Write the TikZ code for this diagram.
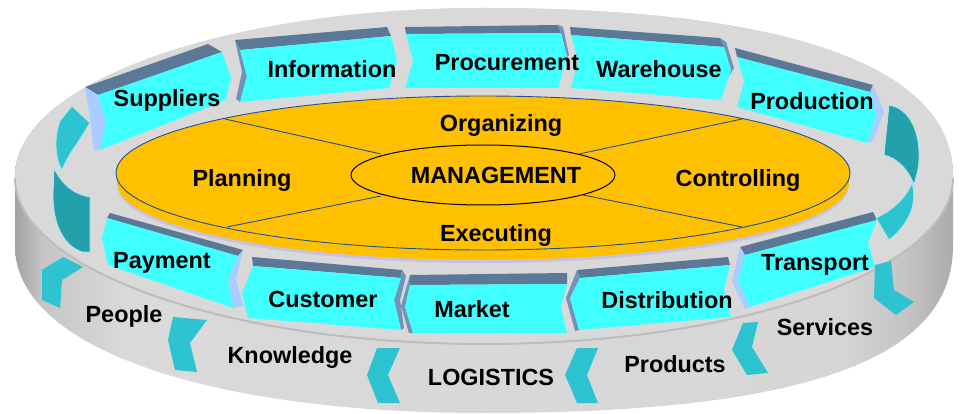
\documentclass[tikz,border=0pt]{standalone}
\usepackage{fontspec}
\setmainfont{Liberation Sans}
\definecolor{cyanF}{HTML}{40FFFF}
\definecolor{slateS}{HTML}{5B7896}
\definecolor{lightB}{HTML}{A9CDFF}
\definecolor{slateE}{HTML}{7392B8}
\definecolor{tealL}{HTML}{2EC3D1}
\definecolor{tealD}{HTML}{22A0AB}
\definecolor{tealEdge}{HTML}{B4E6EC}
\definecolor{orangeC}{HTML}{FFC000}
\definecolor{blueL}{HTML}{1F4F9F}
\definecolor{greyT}{HTML}{D9D9D9}
\definecolor{rimC}{HTML}{BDBDBD}
\definecolor{lavC}{HTML}{C4BCE4}
\definecolor{w0}{HTML}{A2A2A2}
\definecolor{w1}{HTML}{C6C6C6}
\definecolor{w2}{HTML}{DADADA}
\definecolor{w3}{HTML}{D6D6D6}
\definecolor{w4}{HTML}{C4C4C4}
\definecolor{w5}{HTML}{ABABAB}
\pgfdeclarehorizontalshading{wallshade}{100bp}{color(0bp)=(w0); color(25bp)=(w0); color(26.5bp)=(w1); color(31bp)=(w2); color(69bp)=(w3); color(72.5bp)=(w4); color(75bp)=(w5); color(100bp)=(w5)}
\tikzset{
  front/.style={fill=cyanF},
  strip/.style={fill=slateS},
  endlight/.style={fill=lightB},
  endslate/.style={fill=slateE},
  chev/.style={fill=tealL},
  curvL/.style={fill=tealL, draw=tealEdge, line width=0.8pt},
  curvD/.style={fill=tealD, draw=tealEdge, line width=0.8pt},
  divline/.style={draw=blueL, line width=0.9pt},
  lbl/.style={font=\bfseries\fontsize{23.4}{28}\selectfont, inner sep=0pt, anchor=base},
}
\begin{document}
\begin{tikzpicture}[x=1pt,y=-1pt]
\useasboundingbox (0,0) rectangle (961,414);
% disk silhouette with side wall shading
\path[shading=wallshade, shading angle=0]
  (15,176) .. controls (15,83) and (225,8) .. (484,8)
  .. controls (789,8) and (953,67) .. (953,176) -- (953,246)
  .. controls (953,360) and (803,413) .. (484,413)
  .. controls (203,413) and (15,346) .. (15,246) -- cycle;
% top face
\fill[greyT] (15,176) .. controls (15,83) and (225,8) .. (484,8)
  .. controls (789,8) and (953,67) .. (953,176)
  .. controls (953,269) and (743,344) .. (484,344)
  .. controls (225,344) and (15,269) .. (15,176) -- cycle;
% rim
\draw[rimC, line width=2pt] (15,178) .. controls (15,269) and (225,344) .. (484,344)
  .. controls (743,344) and (953,269) .. (953,178);
% orange management disk
\fill[lavC, opacity=0.8] (483,187) ellipse [x radius=365, y radius=76];
\fill[orangeC] (483,183) ellipse [x radius=366, y radius=77];
\filldraw[fill=orangeC, draw=blueL, line width=0.9pt] (483,173) ellipse [x radius=367, y radius=77];
\coordinate (ula) at (225,119); \coordinate (ulb) at (381,154);
\coordinate (lla) at (227,227); \coordinate (llb) at (381,196);
\coordinate (ura) at (742,119); \coordinate (urb) at (579,154);
\coordinate (lra) at (742,227); \coordinate (lrb) at (583,195);
\draw[divline] (ula) -- (ulb);
\draw[divline] (lla) -- (llb);
\draw[divline] (ura) -- (urb);
\draw[divline] (lra) -- (lrb);
\draw[black, line width=1pt] (483,175) ellipse [x radius=132, y radius=30];
% Suppliers
\fill[strip] (85,87) -- (208,44) -- (222,52) -- (98,95) -- cycle;
\fill[endlight] (85,87) -- (98,95) -- (106,121) -- (100,150) -- (94,150) -- (90,118) -- cycle;
\fill[front] (98,95) -- (222,52) -- (231,77) -- (226,100) -- (100,150) -- (106,121) -- cycle;
% Information
\fill[strip] (235,40) -- (387,27) -- (391,36) -- (240,50) -- cycle;
\fill[endslate] (235,40) -- (240,50) -- (247,76) -- (240,102) -- (236,99) -- (242,72) -- cycle;
\fill[front] (240,50) -- (391,36) -- (397,60) -- (389,88) -- (240,102) -- (247,76) -- cycle;
% Procurement
\fill[strip] (405,27) -- (558,25) -- (561,33) -- (406,34) -- cycle;
\fill[endslate] (558,25) -- (563,27) -- (569,55) -- (567,57) -- (561,33) -- cycle;
\fill[front] (406,34) -- (561,33) -- (567,57) -- (558,88) -- (405,88) -- (413,61) -- cycle;
% Warehouse
\fill[strip] (570,27) -- (720,38) -- (724,47) -- (571,35) -- cycle;
\fill[endslate] (720,38) -- (726,42) -- (734,68) -- (727,79) -- (731,70) -- (724,47) -- cycle;
\fill[front] (571,35) -- (724,47) -- (731,70) -- (721,100) -- (571,88) -- (578,60) -- cycle;
% Production
\fill[strip] (735,48) -- (873,85) -- (870,92) -- (737,57) -- cycle;
\fill[endlight] (870,92) -- (873,85) -- (884,112) -- (873,141) -- (867,143) -- (876,116) -- cycle;
\fill[front] (737,57) -- (870,92) -- (876,116) -- (867,143) -- (737,107) -- (744,82) -- cycle;
% Transport
\fill[strip] (740,247) -- (873,212) -- (877,220) -- (745,255) -- cycle;
\fill[endlight] (740,247) -- (745,255) -- (738,280) -- (750,307) -- (745,309) -- (732,281) -- cycle;
\fill[front] (745,255) -- (877,220) -- (868,243) -- (875,267) -- (750,307) -- (738,280) -- cycle;
% Distribution
\fill[strip] (577,270) -- (728,257) -- (730,265) -- (580,278) -- cycle;
\fill[endslate] (577,270) -- (580,278) -- (570,298) -- (579,330) -- (575,331) -- (566,298) -- cycle;
\fill[front] (580,278) -- (730,265) -- (724,290) -- (731,317) -- (579,330) -- (570,298) -- cycle;
% Market
\fill[strip] (410,275) -- (567,273) -- (567,284) -- (410,285) -- cycle;
\fill[endslate] (410,275) -- (410,285) -- (405,307) -- (413,333) -- (409,333) -- (401,306) -- cycle;
\fill[front] (410,285) -- (567,284) -- (561,307) -- (567,333) -- (413,333) -- (405,307) -- cycle;
% Customer
\fill[strip] (252,257) -- (402,270) -- (401,278) -- (253,266) -- cycle;
\fill[endslate] (402,270) -- (406,276) -- (400,300) -- (404,328) -- (401,330) -- (394,300) -- (401,278) -- cycle;
\fill[front] (253,266) -- (401,278) -- (394,300) -- (401,330) -- (248,318) -- (242,293) -- cycle;
% Payment
\fill[strip] (110,213) -- (243,250) -- (238,256) -- (107,218) -- cycle;
\fill[endlight] (238,256) -- (243,250) -- (236,279) -- (243,306) -- (233,308) -- (228,280) -- cycle;
\fill[front] (107,218) -- (238,256) -- (228,280) -- (233,308) -- (108,265) -- (102,238) -- cycle;
% curved arrows on top face
\path[curvL] (60,121) -- (72,106) -- (90,123) -- (78,142) .. controls (71,152) and (65,162) .. (62,170)
  .. controls (56,160) and (53,140) .. (60,121) -- cycle;
\path[curvD] (54,168) .. controls (62,185) and (75,195) .. (90,197) -- (90,252) -- (82,252)
  .. controls (62,245) and (53,222) .. (53,195) -- cycle;
\path[curvD] (889,105) .. controls (906,108) and (918,125) .. (919,152) .. controls (919,166) .. (914,185)
  .. controls (909,170) and (897,158) .. (884,155) -- cycle;
\path[curvL] (912,183) .. controls (917,200) and (912,222) .. (889,240) -- (876,218)
  .. controls (893,210) and (906,198) .. (912,183) -- cycle;
% side wall chevrons
\fill[chev] (42,270) -- (63,257) -- (83,267) -- (62,280) -- (60,308) -- (42,300) -- cycle;
\fill[chev] (173,317) -- (207,320) -- (190,343) -- (197,372) -- (175,370) -- (168,340) -- cycle;
\fill[chev] (377,348) -- (400,348) -- (388,375) -- (400,403) -- (378,403) -- (367,375) -- cycle;
\fill[chev] (577,348) -- (598,348) -- (587,375) -- (598,403) -- (577,403) -- (565,375) -- cycle;
\fill[chev] (743,323) -- (758,322) -- (752,347) -- (768,373) -- (747,375) -- (732,350) -- cycle;
\fill[chev] (875,265) -- (891,261) -- (894,290) -- (914,302) -- (896,315) -- (874,298) -- cycle;
% labels
\node[lbl] (suppliers) at (167,107) {Suppliers};
\node[lbl] (information) at (332,78) {Information};
\node[lbl] (procurement) at (507,71) {Procurement};
\node[lbl] (warehouse) at (659,78) {Warehouse};
\node[lbl] (production) at (812,110) {Production};
\node[lbl] (organizing) at (501,132) {Organizing};
\node[lbl] (management) at (496,184) {MANAGEMENT};
\node[lbl] (planning) at (242,187) {Planning};
\node[lbl] (controlling) at (738,187) {Controlling};
\node[lbl] (executing) at (496,241) {Executing};
\node[lbl] (transport) at (815,270) {Transport};
\node[lbl] (distribution) at (667,308) {Distribution};
\node[lbl] (market) at (472,317) {Market};
\node[lbl] (customer) at (323,307) {Customer};
\node[lbl] (payment) at (162,268) {Payment};
\node[lbl] (people) at (124,322) {People};
\node[lbl] (knowledge) at (290,363) {Knowledge};
\node[lbl] (logistics) at (491,385) {LOGISTICS};
\node[lbl] (products) at (675,372) {Products};
\node[lbl] (services) at (825,335) {Services};
\end{tikzpicture}
\end{document}
